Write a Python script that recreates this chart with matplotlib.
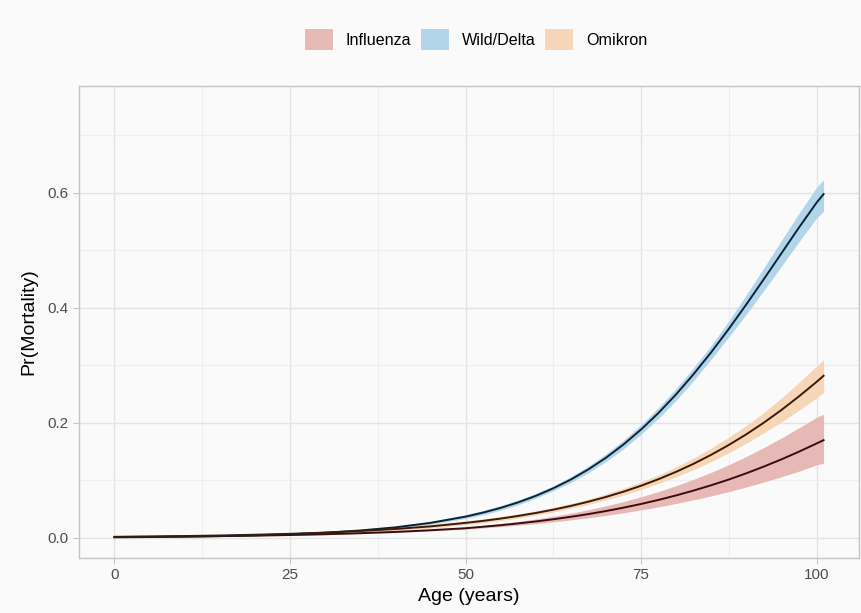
import matplotlib.pyplot as plt
from matplotlib.patches import Patch

age = [0, 5, 10, 15, 20, 25, 30, 35, 40, 45, 50,
       52.5, 55, 57.5, 60, 62.5, 65, 67.5, 70, 72.5, 75,
       77.5, 80, 82.5, 85, 87.5, 90, 92.5, 95, 97.5, 100, 101]

flu = [0.0015, 0.0019, 0.0024, 0.0031, 0.0040, 0.0050, 0.0064, 0.0082, 0.0104, 0.0133, 0.0168,
       0.0194, 0.0221, 0.0252, 0.0286, 0.0324, 0.0367, 0.0414, 0.0467, 0.0526, 0.0590,
       0.0661, 0.0739, 0.0824, 0.0916, 0.1015, 0.1124, 0.1241, 0.1366, 0.1500, 0.1642, 0.170]
flu_lo = [0.0011, 0.0014, 0.0019, 0.0025, 0.0032, 0.0042, 0.0055, 0.0072, 0.0092, 0.0121, 0.0152,
          0.0173, 0.0196, 0.0221, 0.0248, 0.0279, 0.0313, 0.0350, 0.0391, 0.0437, 0.0486,
          0.0540, 0.0599, 0.0663, 0.0731, 0.0805, 0.0886, 0.0972, 0.1063, 0.1161, 0.1271, 0.130]
flu_hi = [0.0020, 0.0025, 0.0031, 0.0039, 0.0049, 0.0060, 0.0075, 0.0094, 0.0117, 0.0146, 0.0185,
          0.0217, 0.0250, 0.0287, 0.0329, 0.0377, 0.0430, 0.0490, 0.0557, 0.0632, 0.0715,
          0.0807, 0.0908, 0.1020, 0.1141, 0.1273, 0.1417, 0.1572, 0.1738, 0.1915, 0.2097, 0.215]

wild = [0.0010, 0.0015, 0.0022, 0.0031, 0.0044, 0.0063, 0.0090, 0.0129, 0.0183, 0.0261, 0.0370,
        0.0440, 0.0522, 0.0618, 0.0731, 0.0863, 0.1015, 0.1192, 0.1394, 0.1625, 0.1885,
        0.2175, 0.2497, 0.2850, 0.3230, 0.3635, 0.4061, 0.4502, 0.4950, 0.5399, 0.5830, 0.598]
wild_lo = [0.0008, 0.0012, 0.0018, 0.0025, 0.0037, 0.0054, 0.0078, 0.0113, 0.0163, 0.0237, 0.0336,
           0.0402, 0.0482, 0.0577, 0.0690, 0.0820, 0.0965, 0.1134, 0.1328, 0.1550, 0.1801,
           0.2081, 0.2394, 0.2738, 0.3110, 0.3496, 0.3892, 0.4304, 0.4725, 0.5151, 0.5563, 0.568]
wild_hi = [0.0013, 0.0019, 0.0027, 0.0038, 0.0053, 0.0074, 0.0105, 0.0147, 0.0205, 0.0287, 0.0404,
           0.0478, 0.0562, 0.0659, 0.0772, 0.0906, 0.1065, 0.1250, 0.1460, 0.1700, 0.1969,
           0.2269, 0.2600, 0.2962, 0.3350, 0.3774, 0.4230, 0.4700, 0.5175, 0.5647, 0.6097, 0.623]

omi = [0.0019, 0.0025, 0.0032, 0.0042, 0.0055, 0.0071, 0.0092, 0.0120, 0.0155, 0.0200, 0.0261,
       0.0296, 0.0336, 0.0382, 0.0433, 0.0491, 0.0556, 0.0630, 0.0712, 0.0804, 0.0907,
       0.1022, 0.1149, 0.1290, 0.1446, 0.1616, 0.1802, 0.2005, 0.2225, 0.2462, 0.2713, 0.282]
omi_lo = [0.0014, 0.0018, 0.0024, 0.0032, 0.0043, 0.0056, 0.0075, 0.0099, 0.0131, 0.0172, 0.0229,
          0.0262, 0.0300, 0.0345, 0.0396, 0.0451, 0.0514, 0.0583, 0.0659, 0.0745, 0.0841,
          0.0949, 0.1063, 0.1189, 0.1328, 0.1480, 0.1647, 0.1829, 0.2017, 0.2221, 0.2436, 0.253]
omi_hi = [0.0026, 0.0034, 0.0043, 0.0055, 0.0070, 0.0089, 0.0113, 0.0145, 0.0183, 0.0232, 0.0297,
          0.0330, 0.0372, 0.0419, 0.0470, 0.0531, 0.0598, 0.0677, 0.0765, 0.0863, 0.0973,
          0.1095, 0.1235, 0.1391, 0.1564, 0.1752, 0.1957, 0.2181, 0.2433, 0.2703, 0.2990, 0.310]

labels = ["Influenza", "Wild/Delta", "Omikron"]
fills = ["#e6b9b6", "#b3d5e9", "#f5d6b7"]
lines = ["#3a0c10", "#0a2436", "#3a1a08"]

plt.rcParams["font.family"] = ["Liberation Sans", "DejaVu Sans"]

fig = plt.figure(figsize=(8.61, 6.13), dpi=100, facecolor="#fafafa")
ax = fig.add_axes([0.0918, 0.0897, 0.9059, 0.77])
ax.set_facecolor("#fafafa")

series = [(flu, flu_lo, flu_hi), (wild, wild_lo, wild_hi), (omi, omi_lo, omi_hi)]
for (mid, lo, hi), fc in zip(series, fills):
    ax.fill_between(age, lo, hi, color=fc, lw=0, zorder=2)
for (mid, lo, hi), lc in zip(series, lines):
    ax.plot(age, mid, color=lc, lw=1.4, zorder=3)

ax.set_xlim(-5.05, 106.05)
ax.set_ylim(-0.035, 0.786)
ax.set_xticks([0, 25, 50, 75, 100])
ax.set_xticks([12.5, 37.5, 62.5, 87.5], minor=True)
ax.set_yticks([0.0, 0.2, 0.4, 0.6])
ax.set_yticklabels(["0.0", "0.2", "0.4", "0.6"])
ax.set_yticks([0.1, 0.3, 0.5, 0.7], minor=True)
ax.grid(which="major", color="#e3e3e3", lw=1.0, zorder=0)
ax.grid(which="minor", color="#eeeeee", lw=0.8, zorder=0)
ax.set_axisbelow(True)
for s in ax.spines.values():
    s.set_color("#c4c4c4")
    s.set_linewidth(1.0)
ax.tick_params(which="major", length=4, color="#c4c4c4", labelsize=11, labelcolor="#4d4d4d")
ax.tick_params(which="minor", length=0)

ax.set_xlabel("Age (years)", fontsize=14, labelpad=4)
ax.set_ylabel("Pr(Mortality)", fontsize=14, labelpad=7)

handles = [Patch(facecolor=c, edgecolor="none") for c in fills]
fig.legend(handles, labels, loc="center", bbox_to_anchor=(0.553, 0.935), ncol=3,
           frameon=False, fontsize=11.6, handlelength=1.74, handleheight=1.6,
           columnspacing=0.6, handletextpad=0.8)

fig.savefig("out.png", dpi=100, facecolor=fig.get_facecolor())
